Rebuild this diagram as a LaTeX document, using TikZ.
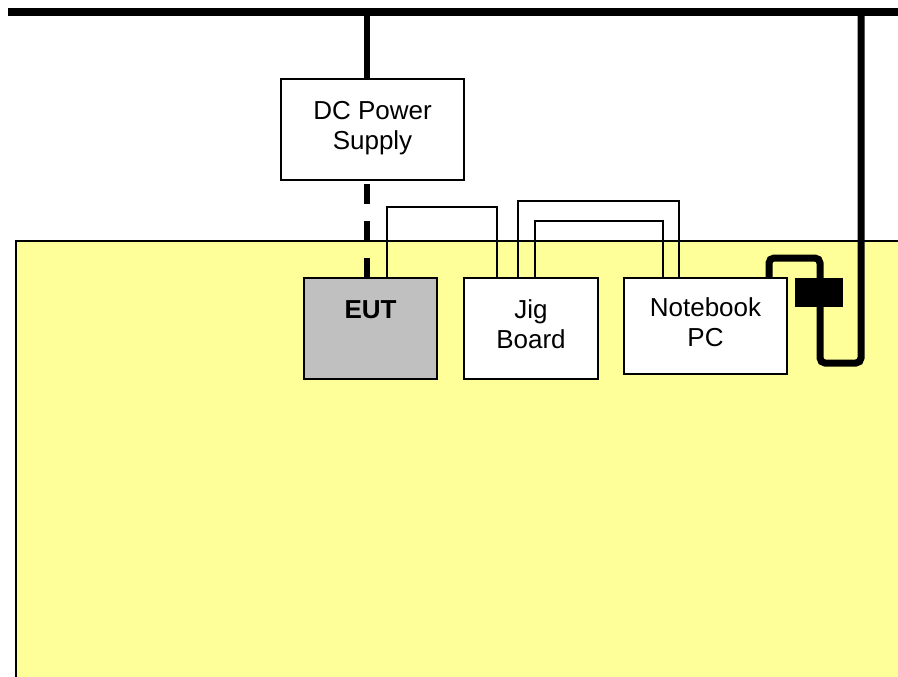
\documentclass[tikz,border=0pt]{standalone}
\usepackage{fontspec}
\setmainfont{Liberation Sans}
\usetikzlibrary{positioning,calc}
\definecolor{tableyellow}{HTML}{FFFF99}
\definecolor{eutgray}{HTML}{C0C0C0}

\begin{document}
\begin{tikzpicture}[x=1pt, y=-1pt,
  box/.style={draw, line width=1.8pt, fill=white, align=center, inner sep=0pt,
    font=\fontsize{26}{30}\selectfont},
  unit/.style={box, minimum width=133pt, minimum height=101pt},
  wire/.style={line width=1.5pt},
  cable/.style={line width=7pt},
  every node/.style={outer sep=0pt}
]
  \useasboundingbox (0,0) rectangle (898,677);

  % Test table
  \fill[tableyellow] (16,241) rectangle (898,677);
  \draw[line width=1.8pt] (900,241) -- (16,241) -- (16,680);

  % Mains bus
  \coordinate (busL) at (8,12);
  \coordinate (busR) at (898,12);
  \coordinate (tap) at (861,12);
  \draw[line width=8pt] (busL) -- (busR);

  % Equipment
  \node[box, minimum width=183pt, minimum height=101pt] (dc) at (372.5,129.5) {DC Power\\Supply\\[-22pt]};
  \node[unit, fill=eutgray] (eut) at (370.5,328.5) {\textbf{EUT}\\~\\[-22pt]};
  \node[unit, minimum width=134pt, right=27pt of eut] (jig) {Jig\\Board\\[-22pt]};
  \node[box, minimum width=163pt, minimum height=96pt,
    right=26pt of jig.north east, anchor=north west] (nb) {Notebook\\PC\\[-22pt]};
  \node[fill=black, minimum width=48pt, minimum height=29pt] (ferrite) at (819,292.5) {};

  % Supply cables
  \draw[line width=6pt] ($(dc.north)+(-6,0)$) -- ($(dc.north)+(-6,-67)$);
  \draw[line width=6pt, dash pattern=on 20pt off 17pt] ($(dc.south)+(-6,4)$) -- ++(0,94);

  % Signal wires
  \draw[wire] ($(eut.north west)+(83,0)$) |- ($(jig.north west)+(33,-71)$) -- ($(jig.north west)+(33,0)$);
  \draw[wire] ($(jig.north west)+(54,0)$) |- ($(nb.north west)+(55,-77)$) -- ($(nb.north west)+(55,0)$);
  \draw[wire] ($(jig.north west)+(71,0)$) |- ($(nb.north west)+(39,-57)$) -- ($(nb.north west)+(39,0)$);

  % Notebook mains cable through ferrite
  \draw[cable, rounded corners=5pt] ($(nb.north west)+(145,0)$) |- ($(ferrite.north)+(1,-20)$)
    -- ($(ferrite.south)+(1,56)$) -| (tap);
  \node[fill=black, minimum width=48pt, minimum height=29pt] at (ferrite) {};
\end{tikzpicture}
\end{document}
